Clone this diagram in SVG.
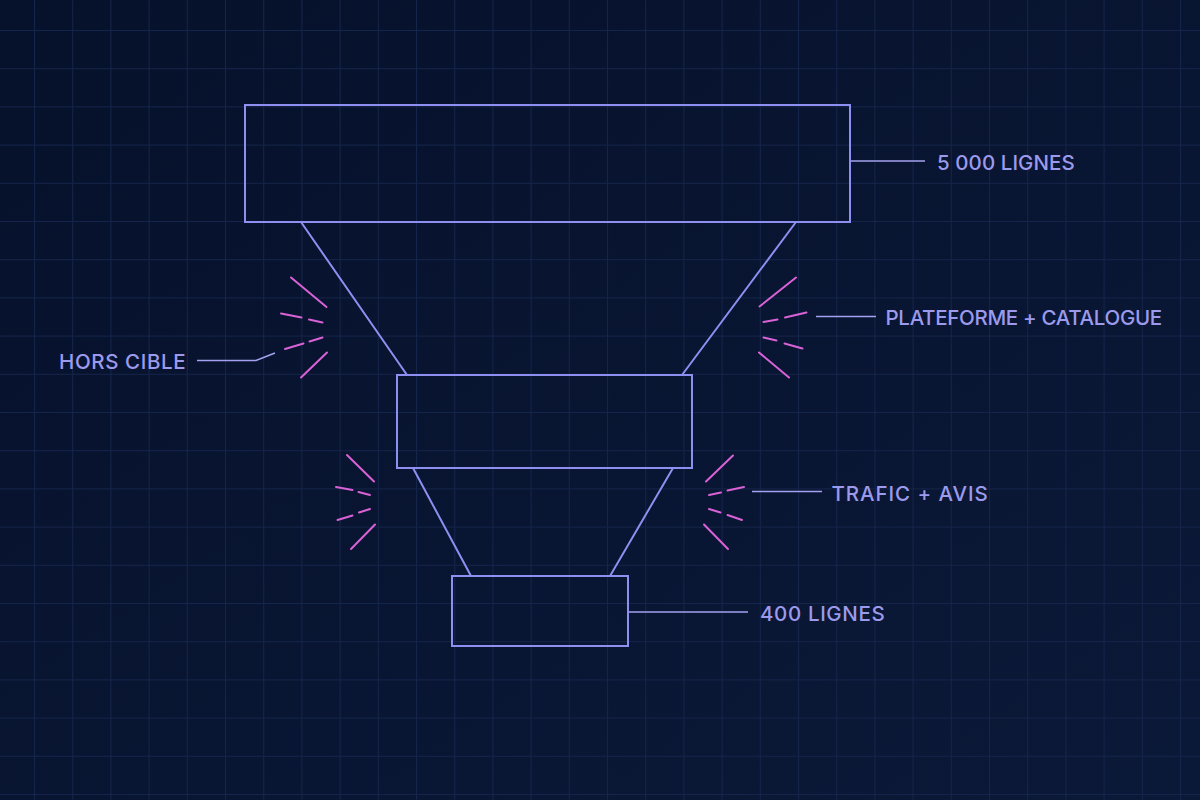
<svg xmlns="http://www.w3.org/2000/svg" width="1200" height="800" viewBox="0 0 1200 800">
  <defs>
    <linearGradient id="bg" x1="0" y1="0" x2="1" y2="1">
      <stop offset="0" stop-color="#06112b"/>
      <stop offset="1" stop-color="#0b1938"/>
    </linearGradient>
    <pattern id="grid" patternUnits="userSpaceOnUse" x="34" y="30" width="38.2" height="38.2">
      <path d="M0.5 0 V38.2 M0 0.5 H38.2" fill="none" stroke="#15244a" stroke-width="1"/>
    </pattern>
    <style>
      .box { fill: none; stroke: #8e8ff0; stroke-width: 2; }
      .funnel { stroke: #8e8ff0; stroke-width: 2; fill: none; stroke-linecap: round; }
      .leader { stroke: #a4a2f0; stroke-width: 1.6; fill: none; }
      .spark { stroke: #d862d6; stroke-width: 2; fill: none; stroke-linecap: round; }
      .label { font-family: Inter, "Liberation Sans", sans-serif; font-size: 20.5px; font-weight: 500; fill: #9c9aec; letter-spacing: 1.3px; }
    </style>
  </defs>

  <rect width="1200" height="800" fill="url(#bg)"/>
  <rect width="1200" height="800" fill="url(#grid)"/>

  <g id="connectors">
    <line class="funnel" x1="301" y1="222" x2="407" y2="375"/>
    <line class="funnel" x1="796" y1="222" x2="682" y2="375"/>
    <line class="funnel" x1="413" y1="468" x2="471" y2="576"/>
    <line class="funnel" x1="673" y1="468" x2="610" y2="576"/>
    <line class="leader" x1="851" y1="161" x2="925" y2="161"/>
    <line class="leader" x1="816" y1="316.5" x2="876" y2="316.5"/>
    <polyline class="leader" points="197,360.5 256,360.5 275,353"/>
    <line class="leader" x1="752" y1="491.5" x2="822" y2="491.5"/>
    <line class="leader" x1="629" y1="612" x2="748" y2="612"/>
  </g>

  <g id="sparks-upper-left">
    <line class="spark" x1="291" y1="277.5" x2="326.5" y2="307"/>
    <line class="spark" x1="281" y1="313.5" x2="301.5" y2="317.5"/>
    <line class="spark" x1="309" y1="319.5" x2="322.5" y2="322.5"/>
    <line class="spark" x1="322.5" y1="337.5" x2="309.5" y2="341.5"/>
    <line class="spark" x1="303.5" y1="343.5" x2="285" y2="349"/>
    <line class="spark" x1="327" y1="352.5" x2="301" y2="377.5"/>
  </g>
  <g id="sparks-upper-right">
    <line class="spark" x1="796" y1="277.5" x2="759.5" y2="306.5"/>
    <line class="spark" x1="806.5" y1="312.5" x2="785" y2="317.5"/>
    <line class="spark" x1="777.5" y1="319.5" x2="763.5" y2="322"/>
    <line class="spark" x1="763.5" y1="337.5" x2="776.5" y2="340.5"/>
    <line class="spark" x1="784.5" y1="343.5" x2="802.5" y2="348.5"/>
    <line class="spark" x1="759" y1="352.5" x2="789" y2="377.5"/>
  </g>
  <g id="sparks-lower-left">
    <line class="spark" x1="347" y1="455" x2="374" y2="481.5"/>
    <line class="spark" x1="336" y1="487" x2="352.5" y2="490"/>
    <line class="spark" x1="358.5" y1="492" x2="370" y2="495"/>
    <line class="spark" x1="370" y1="509" x2="359" y2="512.5"/>
    <line class="spark" x1="352.5" y1="515.5" x2="337.5" y2="520"/>
    <line class="spark" x1="375" y1="524.5" x2="351" y2="549"/>
  </g>
  <g id="sparks-lower-right">
    <line class="spark" x1="733" y1="455.5" x2="706" y2="481.5"/>
    <line class="spark" x1="744" y1="487" x2="727.5" y2="490.5"/>
    <line class="spark" x1="721" y1="492.5" x2="709" y2="495"/>
    <line class="spark" x1="709" y1="509" x2="720.5" y2="512.5"/>
    <line class="spark" x1="727.5" y1="515" x2="742" y2="520"/>
    <line class="spark" x1="704" y1="524.5" x2="728" y2="549"/>
  </g>

  <g id="stage-top">
    <rect class="box" x="245" y="105" width="605" height="117"/>
  </g>
  <g id="stage-middle">
    <rect class="box" x="397" y="375" width="295" height="93"/>
  </g>
  <g id="stage-bottom">
    <rect class="box" x="452" y="576" width="176" height="70"/>
  </g>

  <g id="label-5000">
    <text class="label" x="937" y="169.5" textLength="139" lengthAdjust="spacing">5 000 LIGNES</text>
  </g>
  <g id="label-plateforme">
    <text class="label" x="885.5" y="325" textLength="278" lengthAdjust="spacing">PLATEFORME + CATALOGUE</text>
  </g>
  <g id="label-hors-cible">
    <text class="label" x="59" y="368.5" textLength="128" lengthAdjust="spacing">HORS CIBLE</text>
  </g>
  <g id="label-trafic">
    <text class="label" x="831.5" y="500.5" textLength="157.5" lengthAdjust="spacing">TRAFIC + AVIS</text>
  </g>
  <g id="label-400">
    <text class="label" x="760" y="620.5" textLength="126" lengthAdjust="spacing">400 LIGNES</text>
  </g>
</svg>
